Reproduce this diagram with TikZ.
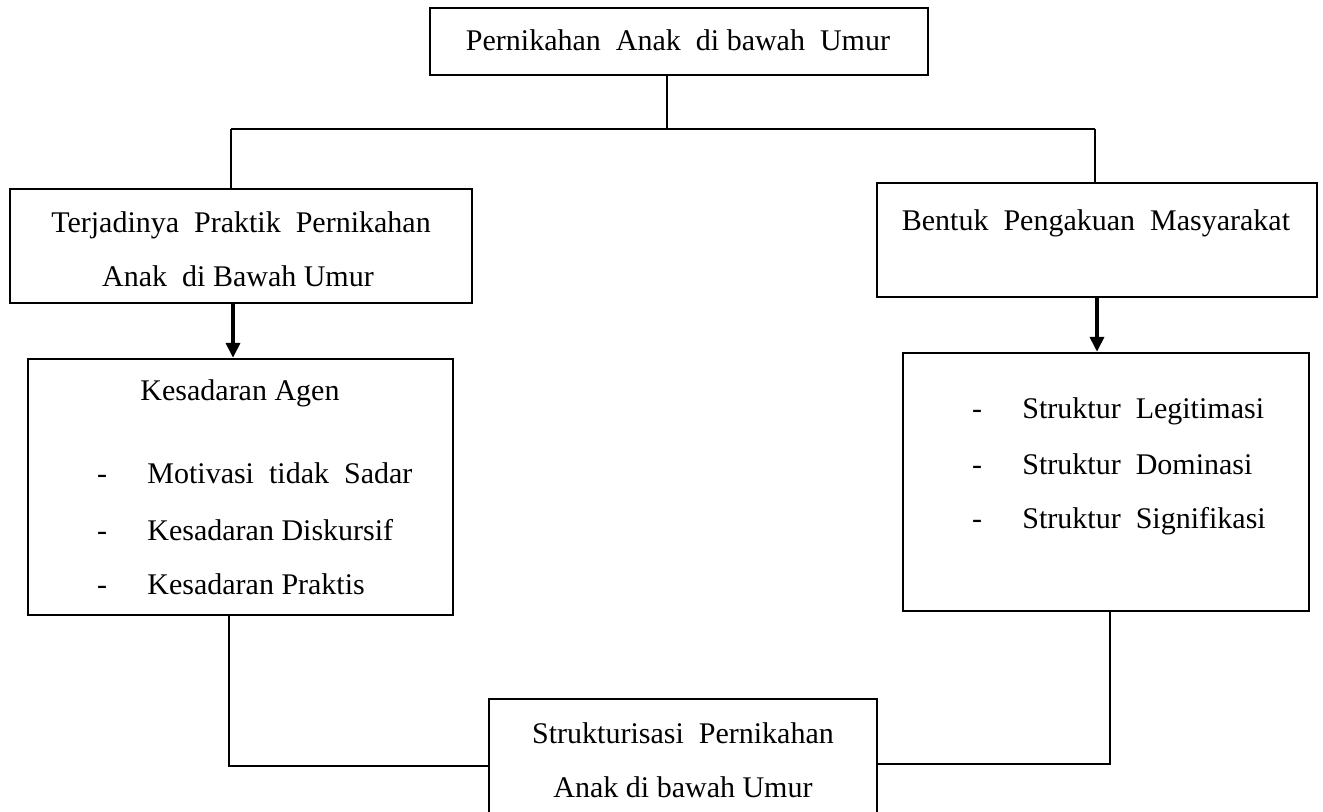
\documentclass[tikz,border=0pt]{standalone}
\usepackage{fontspec}
\setmainfont{Liberation Serif}
\usetikzlibrary{arrows.meta,fit}
\begin{document}
\begin{tikzpicture}[x=0.5pt,y=-0.5pt,
  box/.style={draw,line width=1.2pt,inner sep=0pt},
  lbl/.style={inner sep=0pt,anchor=base,font=\fontsize{15}{18}\selectfont},
  lbll/.style={lbl,anchor=base west},
  conn/.style={line width=1pt},
  arr/.style={line width=1.8pt,-{Triangle[length=7.5pt,width=7pt]}}]
\useasboundingbox (0,0) rectangle (1323,812);
\clip (0,0) rectangle (1323,812);
\fill[white] (0,0) rectangle (1323,812);
% boxes
\node[box,fit={(430,8)(928,75)}] (top) {};
\node[box,fit={(10,189)(472,303)}] (tl) {};
\node[box,fit={(877,183)(1317,297)}] (tr) {};
\node[box,fit={(28,359)(453,615)}] (ml) {};
\node[box,fit={(903,353)(1309,611)}] (mr) {};
\node[box,fit={(489,699)(877,850)}] (bot) {};
% texts
\node[lbl] (t0) at (678,51) {Pernikahan\ \ Anak\ \ di bawah\ \ Umur};
\node[lbl] (t1a) at (241,233) {Terjadinya\ \ Praktik\ \ Pernikahan};
\node[lbl] (t1b) at (238,287) {Anak\ \ di Bawah Umur};
\node[lbl] (t2) at (1096,231) {Bentuk\ \ Pengakuan\ \ Masyarakat};
\node[lbl] (t3) at (240,401) {Kesadaran Agen};
\node[lbl] (d3a) at (102,484) {-};
\node[lbl] (d3b) at (102,540) {-};
\node[lbl] (d3c) at (102,595) {-};
\node[lbll] (t3a) at (147,484) {Motivasi\ \ tidak\ \ Sadar};
\node[lbll] (t3b) at (147,540) {Kesadaran Diskursif};
\node[lbll] (t3c) at (147,595) {Kesadaran Praktis};
\node[lbl] (d4a) at (977,419) {-};
\node[lbl] (d4b) at (977,475) {-};
\node[lbl] (d4c) at (977,529) {-};
\node[lbll] (t4a) at (1022,419) {Struktur\ \ Legitimasi};
\node[lbll] (t4b) at (1022,475) {Struktur\ \ Dominasi};
\node[lbll] (t4c) at (1022,529) {Struktur\ \ Signifikasi};
\node[lbl] (t5a) at (683,743) {Strukturisasi\ \ Pernikahan};
\node[lbl] (t5b) at (683,797) {Anak\ di bawah Umur};
% connectors
\coordinate (j) at (667,129);
\coordinate (jl) at (231,129);
\coordinate (jr) at (1095,129);
\draw[conn] (j |- top.south) -- (j);
\draw[conn] (jl) -- (jr);
\draw[conn] (jl) -- (jl |- tl.north);
\draw[conn] (jr) -- (jr |- tr.north);
\coordinate (al) at (233,0);
\coordinate (ar) at (1097,0);
\draw[arr] (al |- tl.south) -- (al |- ml.north);
\draw[arr] (ar |- tr.south) -- (ar |- mr.north);
\coordinate (bl) at (229,766);
\coordinate (br) at (1110,764);
\draw[conn] (bl |- ml.south) -- (bl) -- (bl -| bot.west);
\draw[conn] (br |- mr.south) -- (br) -- (br -| bot.east);
\end{tikzpicture}
\end{document}
